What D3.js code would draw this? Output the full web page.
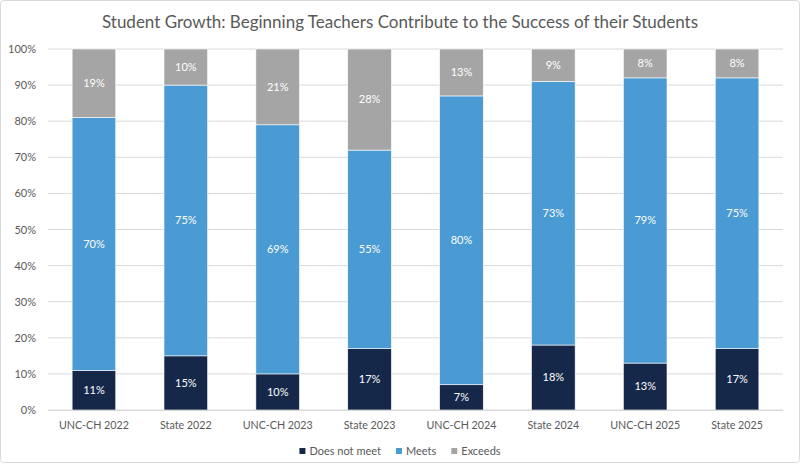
<!DOCTYPE html>
<html><head><meta charset="utf-8">
<script src="https://cdn.jsdelivr.net/npm/d3@7"></script>
<style>body{margin:0;background:#fff;font-family:Lato,sans-serif;}</style>
</head><body><svg id="c" width="800" height="474"></svg>
<script>
const categories=["UNC-CH 2022","State 2022","UNC-CH 2023","State 2023","UNC-CH 2024","State 2024","UNC-CH 2025","State 2025"];
const doesNotMeet=[11,15,10,17,7,18,13,17];
const meets=[70,75,69,55,80,73,79,75];
const exceeds=[19,10,21,28,13,9,8,8];
const seriesNames=["Does not meet","Meets","Exceeds"];
const colors=["#15284a","#4a9ad3","#a5a5a5"];
const yTicks=[0,10,20,30,40,50,60,70,80,90,100];
const FONT="Lato";

const svg=d3.select("#c");
svg.append("rect").attr("x",0.5).attr("y",0.5).attr("width",799).attr("height",462).attr("rx",3).attr("fill","#fff").attr("stroke","#d9d9d9");
const m={l:48,r:17,t:49,b:64};
const W=800-m.l-m.r, H=474-m.t-m.b;
const g=svg.append("g").attr("transform",`translate(${m.l},${m.t})`);
const x=d3.scaleBand().domain(categories).range([0,W]).paddingInner(0.525).paddingOuter(0.2625);
const y=d3.scaleLinear().domain([0,100]).range([H,0]);

g.selectAll(".grid").data(yTicks).join("line").attr("x1",0).attr("x2",W)
 .attr("y1",d=>y(d)).attr("y2",d=>y(d)).attr("stroke","#d9d9d9").attr("stroke-width",1);
const yAxis=g.append("g").call(d3.axisLeft(y).tickValues(yTicks).tickFormat(d=>d+"%").tickSize(0).tickPadding(12));
yAxis.select(".domain").remove();
yAxis.selectAll("text").attr("fill","#595959").style("font-size","11px").style("font-family",FONT);

const data=categories.map((c,i)=>({cat:c,"Does not meet":doesNotMeet[i],"Meets":meets[i],"Exceeds":exceeds[i]}));
const stacked=d3.stack().keys(seriesNames)(data);
stacked.forEach((s,si)=>{
  const gg=g.append("g");
  gg.selectAll("rect").data(s).join("rect").attr("x",d=>x(d.data.cat)).attr("width",x.bandwidth())
    .attr("y",d=>y(d[1])).attr("height",d=>y(d[0])-y(d[1])).attr("fill",colors[si])
    .attr("stroke","#ffffff").attr("stroke-width",0.6);
  gg.selectAll("text").data(s).join("text").attr("x",d=>x(d.data.cat)+x.bandwidth()/2)
    .attr("y",d=>(y(d[0])+y(d[1]))/2).attr("dy","0.35em").attr("text-anchor","middle")
    .attr("fill","#fff").style("font-size","11px").style("font-family",FONT).text(d=>(d[1]-d[0])+"%");
});
const xAxis=g.append("g").attr("transform",`translate(0,${H})`).call(d3.axisBottom(x).tickSize(0).tickPadding(11));
xAxis.select(".domain").attr("stroke","#d9d9d9");
xAxis.selectAll("text").attr("fill","#595959").style("font-size","10.7px").style("font-family",FONT);

svg.append("text").attr("x",400).attr("y",28).attr("text-anchor","middle").attr("fill","#595959")
  .style("font-size","17px").style("font-family",FONT).text("Student Growth: Beginning Teachers Contribute to the Success of their Students");

const leg=svg.append("g");
let cx=0;
seriesNames.forEach((n,i)=>{
  const it=leg.append("g").attr("transform",`translate(${cx},0)`);
  it.append("rect").attr("x",0).attr("y",448).attr("width",6).attr("height",6).attr("fill",colors[i]);
  const t=it.append("text").attr("x",10).attr("y",451).attr("dy","0.35em").attr("fill","#595959").style("font-size","11px").style("font-family",FONT).text(n);
  cx+=10+t.node().getComputedTextLength()+15;
});
leg.attr("transform",`translate(${400-(cx-15)/2},0)`);
</script></body></html>
